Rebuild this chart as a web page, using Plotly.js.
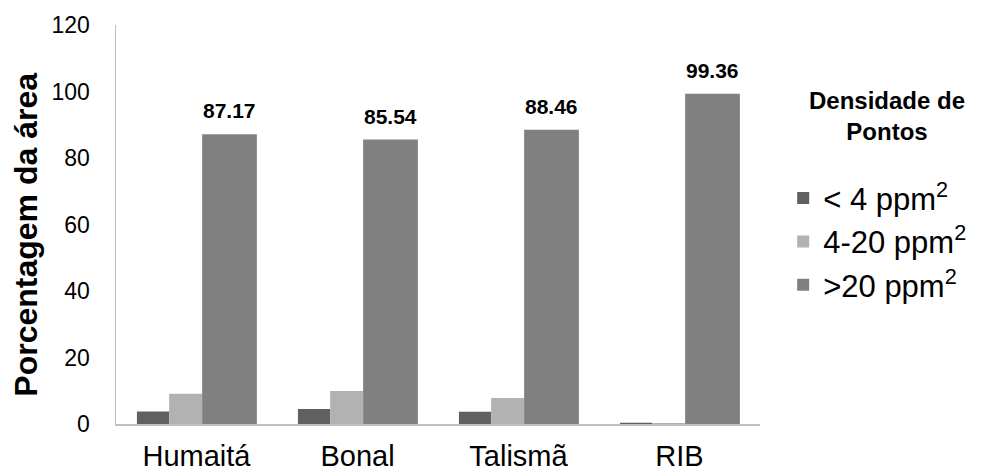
<!DOCTYPE html>
<html>
<head>
<meta charset="utf-8">
<script src="https://cdn.plot.ly/plotly-3.0.1.min.js"></script>
<style>html,body{margin:0;padding:0;background:#fff;}#chart{width:991px;height:474px;}</style>
</head>
<body>
<div id="chart"></div>
<script>
var categories = ['Humaitá', 'Bonal', 'Talismã', 'RIB'];
var seriesNames = ['&lt; 4 ppm<sup>2</sup>', '4-20 ppm<sup>2</sup>', '&gt;20 ppm<sup>2</sup>'];
var lowDensity = [3.75, 4.5, 3.7, 0.35];
var midDensity = [9.08, 9.96, 7.84, 0.29];
var highDensity = [87.17, 85.54, 88.46, 99.36];
var highLabels = ['87.17', '85.54', '88.46', '99.36'];
var yTicks = [0, 20, 40, 60, 80, 100, 120];
var legendTitle = 'Densidade de<br>Pontos';
var yTitle = 'Porcentagem da área';

var colors = ['#606060', '#b2b2b2', '#808080'];
var offsets = [-0.37, -0.17, 0.035];
var widths = [0.2, 0.205, 0.34];
var values = [lowDensity, midDensity, highDensity];
var font = 'Liberation Sans, Arial, sans-serif';

var traces = values.map(function (v, k) {
  return {
    type: 'bar',
    x: categories,
    y: v,
    name: seriesNames[k],
    legendgroup: 'g' + k,
    offset: offsets[k],
    width: widths[k],
    marker: {color: colors[k], line: {width: 0}},
    hoverinfo: 'none'
  };
});

var annotations = highDensity.map(function (v, i) {
  return {
    x: i + offsets[2] + widths[2] / 2,
    y: v,
    xref: 'x', yref: 'y',
    text: '<b>' + highLabels[i] + '</b>',
    showarrow: false,
    yanchor: 'bottom',
    yshift: 10,
    font: {family: font, size: 21, color: '#000'}
  };
});
annotations.push({
  xref: 'paper', yref: 'paper',
  x: -0.14, y: 0.474,
  xanchor: 'center', yanchor: 'middle',
  text: '<b>' + yTitle + '</b>',
  textangle: -90,
  showarrow: false,
  font: {family: font, size: 32, color: '#000'}
});
annotations.push({
  xref: 'paper', yref: 'paper',
  x: 1.197, y: 0.773,
  xanchor: 'center', yanchor: 'middle',
  align: 'center',
  text: '<b>' + legendTitle + '</b>',
  showarrow: false,
  font: {family: font, size: 24, color: '#000'}
});

var layout = {
  width: 991, height: 474,
  margin: {l: 116, r: 231, t: 25, b: 49.5},
  paper_bgcolor: '#fff', plot_bgcolor: '#fff',
  barmode: 'overlay',
  showlegend: true,
  font: {family: font, color: '#000'},
  xaxis: {
    type: 'category',
    range: [-0.5, 3.5],
    showline: true, linecolor: '#bfbfbf', linewidth: 1.5,
    showgrid: false, zeroline: false, ticks: '',
    tickfont: {family: font, size: 29, color: '#000'},
    ticklabelstandoff: 6,
    automargin: false
  },
  yaxis: {
    range: [0, 120],
    tickvals: yTicks,
    ticktext: yTicks.map(String),
    showline: true, linecolor: '#bfbfbf', linewidth: 1.5,
    showgrid: false, zeroline: false, ticks: '',
    tickfont: {family: font, size: 23, color: '#000'},
    ticklabelstandoff: 20,
    automargin: false
  },
  legend: {
    x: 1.036, xanchor: 'left',
    y: 0.633, yanchor: 'top',
    font: {family: font, size: 31, color: '#000'},
    traceorder: 'grouped',
    tracegroupgap: 0,
    itemclick: false
  },
  annotations: annotations
};

Plotly.newPlot('chart', traces, layout, {displayModeBar: false, staticPlot: true});
</script>
</body>
</html>
